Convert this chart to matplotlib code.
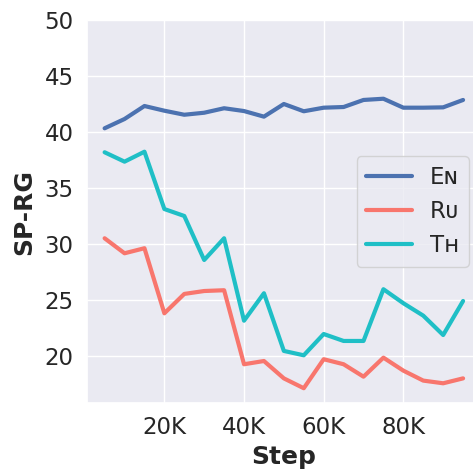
import matplotlib
matplotlib.use("Agg")
import matplotlib.pyplot as plt
import matplotlib.ticker as mticker
import seaborn as sns

steps = [5000, 10000, 15000, 20000, 25000, 30000, 35000, 40000, 45000, 50000,
         55000, 60000, 65000, 70000, 75000, 80000, 85000, 90000, 95000]
en = [40.33, 41.16, 42.32, 41.9, 41.54, 41.72, 42.12, 41.87, 41.37, 42.5,
      41.85, 42.17, 42.23, 42.86, 42.97, 42.17, 42.17, 42.2, 42.86]
ru = [30.51, 29.17, 29.62, 23.81, 25.54, 25.8, 25.87, 19.26, 19.55, 18.0,
      17.12, 19.71, 19.26, 18.15, 19.85, 18.69, 17.8, 17.56, 18.0]
th = [38.19, 37.35, 38.24, 33.12, 32.5, 28.57, 30.51, 23.15, 25.6, 20.45,
      20.06, 21.96, 21.34, 21.34, 25.96, 24.71, 23.6, 21.87, 24.91]
labels = ["Eɴ", "Rᴜ", "Tʜ"]
colors = ["#4C72B0", "#F8766D", "#1FBFC6"]

sns.set_theme(style="darkgrid", font_scale=1.5)
plt.rcParams['font.family'] = ['DejaVu Sans']

fig = plt.figure(figsize=(4.73, 4.69), dpi=100)
ax = fig.add_axes([86.7 / 473, 66 / 469, 394.3 / 473, 383 / 469])

for ys, lab, c in zip([en, ru, th], labels, colors):
    ax.plot(steps, ys, color=c, linewidth=3, label=lab)

ax.set_ylim(15.8, 50)
ax.set_yticks([20, 25, 30, 35, 40, 45, 50])
ax.set_xticks([20000, 40000, 60000, 80000])
ax.xaxis.set_major_formatter(mticker.FuncFormatter(lambda v, p: f"{int(v/1000)}K"))
ax.tick_params(labelsize=16.5, colors="#262626")
ax.set_xlabel("Step", fontsize=18, fontweight="bold", labelpad=4)
ax.set_ylabel("SP-RG", fontsize=18, fontweight="bold", labelpad=6)

leg = ax.legend(loc="center right", fontsize=16.5, frameon=True,
                bbox_to_anchor=(0.9975, 0.5))

fig.savefig("out.png", dpi=100)
